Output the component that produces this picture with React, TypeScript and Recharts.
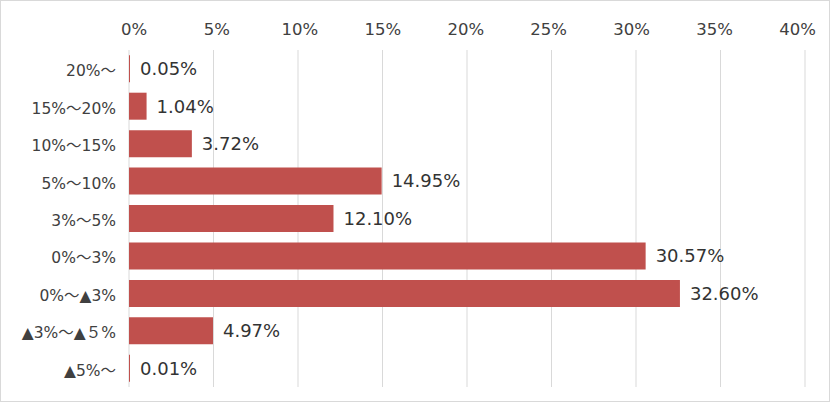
import React from 'react'
import {
  BarChart,
  Bar,
  XAxis,
  YAxis,
  CartesianGrid,
  LabelList
} from 'recharts'

const categories = [
  '20%～',
  '15%～20%',
  '10%～15%',
  '5%～10%',
  '3%～5%',
  '0%～3%',
  '0%～▲3%',
  '▲3%～▲５%',
  '▲5%～',
]

const shares = [0.05, 1.04, 3.72, 14.95, 12.10, 30.57, 32.60, 4.97, 0.01]

const xTicks = [0, 5, 10, 15, 20, 25, 30, 35, 40]

const data = categories.map((name, i) => ({ name, value: shares[i] }))

const font = '"DejaVu Sans", "Noto Sans CJK JP", sans-serif'

const PLOT_LEFT = 129

// Excel spaces the top labels a touch tighter than the gridlines
const TopTick = (props: any) => {
  const { x, y, payload } = props
  const tx = PLOT_LEFT + 5 + (x - PLOT_LEFT) * 0.9815
  return (
    <text
      x={tx}
      y={y}
      textAnchor="middle"
      fill="#404040"
      fontSize={16.5}
      fontFamily={font}
    >
      {payload.value + '%'}
    </text>
  )
}

const App = () => {
  return (
    <div
      style={{
        position: 'fixed',
        left: 0,
        top: 0,
        width: 830,
        height: 402,
        boxSizing: 'border-box',
        border: '1px solid #d9d9d9',
        background: '#fff',
        fontFamily: font,
      }}
    >
      <div style={{ position: 'absolute', left: -1, top: -1 }}>
        <BarChart
          width={830}
          height={402}
          data={data}
          layout="vertical"
          barCategoryGap="14%"
          margin={{ top: 20, right: 25, bottom: 15, left: 0 }}
        >
          <CartesianGrid horizontal={false} stroke="#d9d9d9" />
          <XAxis
            type="number"
            orientation="top"
            domain={[0, 40]}
            ticks={xTicks}
            height={30}
            axisLine={false}
            tickLine={false}
            tickMargin={9}
            tick={<TopTick />}
          />
          <YAxis
            type="category"
            dataKey="name"
            width={129}
            axisLine={false}
            tickLine={false}
            tickMargin={7}
            tick={{ fill: '#404040', fontSize: 15.5, fontFamily: font, dy: 2 }}
          />
          <Bar dataKey="value" fill="#C0504D" minPointSize={1} isAnimationActive={false}>
            <LabelList
              dataKey="value"
              position="right"
              offset={10}
              formatter={(v: number) => v.toFixed(2) + '%'}
              style={{ fill: '#333333', fontSize: 18, fontFamily: font }}
            />
          </Bar>
        </BarChart>
      </div>
    </div>
  )
}

export default App
